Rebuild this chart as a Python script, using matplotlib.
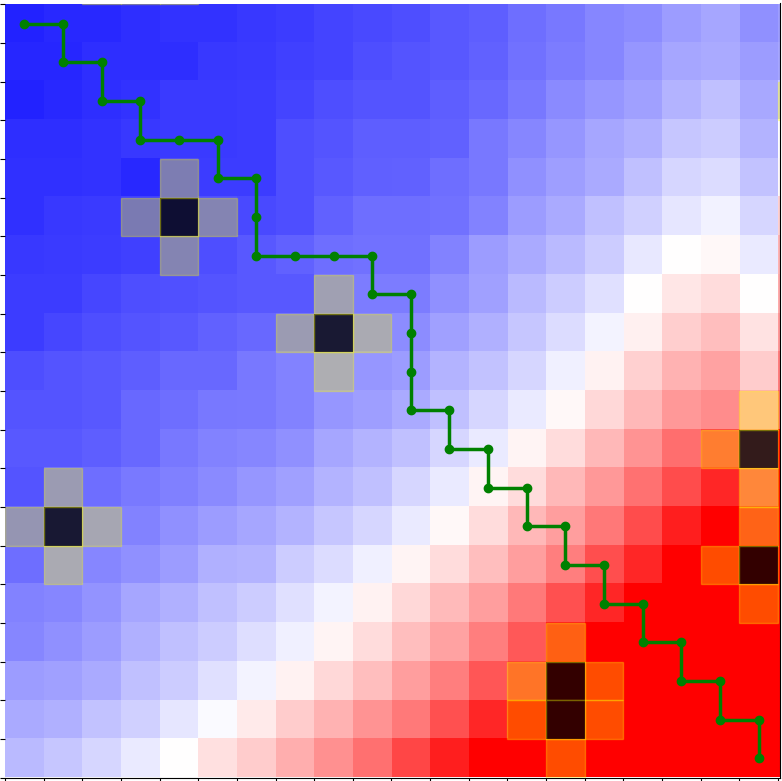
import matplotlib
matplotlib.use("Agg")
import matplotlib.pyplot as plt
from matplotlib.patches import Rectangle
import numpy as np

# cell values, -100 is pure blue, 100 is pure red
# last column only shows as a thin strip at the right edge
values = np.array([
    [-86,-84,-84,-82,-80,-80,-78,-76,-73,-71,-69,-65,-63,-57,-53,-47,-45,-39,-35,-43,-38],
    [-85,-85,-82,-82,-82,-78,-77,-75,-73,-69,-67,-65,-61,-55,-51,-47,-41,-35,-33,-39,-35],
    [-86,-84,-82,-80,-77,-77,-76,-73,-69,-67,-67,-63,-59,-53,-46,-41,-37,-29,-25,-34,-20],
    [-82,-82,-80,-78,-77,-77,-76,-69,-67,-63,-63,-61,-53,-47,-41,-35,-31,-22,-20,-29,0],
    [-81,-81,-80,-84,-72,-76,-76,-69,-65,-62,-61,-57,-53,-43,-38,-33,-25,-16,-14,-24,2],
    [-81,-78,-77,-74,-72,-68,-71,-69,-61,-57,-57,-55,-49,-39,-33,-25,-18,-10,-5,-16,18],
    [-78,-77,-76,-75,-68,-69,-65,-61,-57,-55,-55,-49,-39,-33,-27,-20,-9,0,3,-8,30],
    [-76,-76,-72,-69,-68,-67,-65,-65,-53,-51,-51,-43,-37,-27,-20,-12,0,10,14,0,33],
    [-76,-72,-69,-67,-65,-61,-59,-56,-50,-47,-45,-37,-31,-22,-14,-4,6,19,25,11,40],
    [-69,-67,-65,-63,-59,-59,-53,-49,-45,-41,-39,-29,-24,-16,-6,5,18,30,36,20,50],
    [-67,-67,-65,-59,-57,-53,-52,-49,-41,-38,-33,-25,-16,-8,3,15,28,40,45,31,60],
    [-65,-65,-63,-59,-53,-49,-47,-43,-35,-29,-25,-16,-8,4,14,28,42,57,72,47,100],
    [-67,-56,-57,-52,-50,-46,-41,-37,-29,-25,-16,-8,4,14,28,40,55,70,85,67,100],
    [-59,-53,-50,-49,-43,-39,-35,-29,-22,-16,-8,3,14,28,38,53,70,88,100,86,100],
    [-57,-47,-47,-43,-39,-31,-29,-20,-14,-6,4,14,25,38,50,69,85,100,100,100,100],
    [-49,-47,-42,-35,-31,-25,-20,-12,-4,5,15,27,38,52,68,85,100,100,100,100,100],
    [-47,-43,-39,-31,-25,-20,-13,-6,4,14,25,36,50,65,89,100,100,100,100,100,100],
    [-39,-37,-33,-25,-20,-12,-4,5,15,25,38,50,66,78,100,100,100,100,100,100,100],
    [-33,-31,-24,-18,-10,-2,8,20,30,42,52,68,85,100,100,100,100,100,100,100,100],
    [-27,-22,-16,-8,0,12,20,32,43,56,72,88,100,100,100,100,100,100,100,100,100],
])

# (row, col)
obstacles = [(5,4),(8,8),(13,1),(17,14),(18,14),(11,19),(14,19),(-1,3)]
near_cells = [(4,4),(6,4),(5,3),(5,5),(7,8),(9,8),(8,7),(8,9),(12,1),(14,1),(13,0),(13,2),
              (16,14),(19,14),(17,13),(18,13),(17,15),(18,15),
              (10,19),(12,19),(11,18),(13,19),(15,19),(14,18),(-1,2),(-1,4),(2,20)]

path_rows = [0,0,1,1,2,2,3,3,3,4,4,5,6,6,6,6,7,7,8,9,10,10,11,11,12,12,13,13,14,14,15,15,16,16,17,17,18,18,19]
path_cols = [0,1,1,2,2,3,3,4,5,5,6,6,6,7,8,9,9,10,10,10,10,11,11,12,12,13,13,14,14,15,15,16,16,17,17,18,18,19,19]

fig = plt.figure(figsize=(7.82, 7.81), dpi=100)
ax = fig.add_axes([5/782, 3.5/781, 774.5/782, 774/781])

ax.imshow(values, cmap="bwr", vmin=-100, vmax=100, interpolation="nearest", aspect="auto")

for r, c in near_cells:
    ax.add_patch(Rectangle((c-.5, r-.5), 1, 1, color="yellow", alpha=.3))
for r, c in obstacles:
    ax.add_patch(Rectangle((c-.5, r-.5), 1, 1, facecolor="black", edgecolor="none", alpha=.8))
    ax.add_patch(Rectangle((c-.5, r-.5), 1, 1, fill=False, edgecolor="yellow", alpha=.35))

ax.plot(path_cols, path_rows, "o-", color="green", lw=2.5, ms=6)

ax.set_xlim(-.5, 19.54)
ax.set_ylim(19.5, -.525)
ax.set_xticks(np.arange(-.5, 20))
ax.set_yticks(np.arange(-.5, 20))
ax.set_xticklabels([])
ax.set_yticklabels([])
ax.spines["left"].set_visible(False)
ax.spines["top"].set_visible(False)

fig.savefig("out.png", dpi=100)
